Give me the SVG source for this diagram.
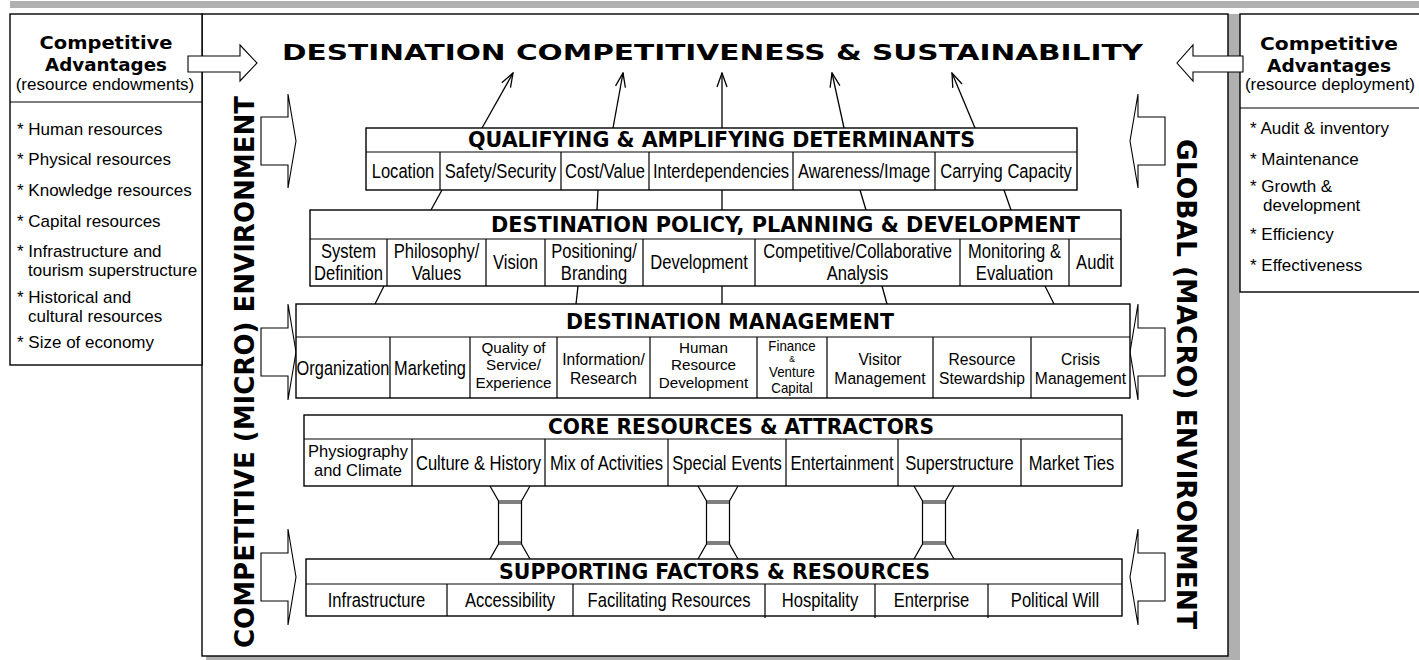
<svg xmlns="http://www.w3.org/2000/svg" width="1419" height="660" viewBox="0 0 1419 660">
<defs>
<style>
.box{fill:#fff;stroke:#000;stroke-width:1.4}
.dv{stroke:#000;stroke-width:1.2;fill:none}
.ln{stroke:#000;stroke-width:1.3;fill:none}
.blk{fill:#fff;stroke:#000;stroke-width:1.1}
.gray{fill:#b0b0b0}
.hd{font-family:"DejaVu Sans",Verdana,sans-serif;font-weight:bold;font-size:21px;text-anchor:middle;fill:#000}
.c{font-family:"Liberation Sans",Arial,sans-serif;font-size:19.5px;text-anchor:middle;fill:#000}
.m{font-family:"Liberation Sans",Arial,sans-serif;font-size:17px;text-anchor:middle;fill:#000}
.m3{font-family:"Liberation Sans",Arial,sans-serif;font-size:15.5px;text-anchor:middle;fill:#000}
.li{font-family:"Liberation Sans",Arial,sans-serif;font-size:17px;fill:#000}
.sub{font-family:"Liberation Sans",Arial,sans-serif;font-size:17px;text-anchor:middle;fill:#000}
.ca{font-family:"DejaVu Sans",Verdana,sans-serif;font-weight:bold;font-size:18.5px;text-anchor:middle;fill:#000}
.vt{font-family:"DejaVu Sans",Verdana,sans-serif;font-weight:bold;font-size:26px;text-anchor:middle;fill:#000}
</style>
<marker id="ah" viewBox="0 0 16 12" refX="15" refY="6" markerWidth="16" markerHeight="12" markerUnits="userSpaceOnUse" orient="auto">
<path d="M1,1 L15,6 L1,11" fill="none" stroke="#000" stroke-width="1.3"/>
</marker>
</defs>

<rect x="0" y="0" width="1419" height="660" fill="#fff"/>
<rect class="gray" x="10" y="1" width="1409" height="7"/>
<rect class="gray" x="1228" y="14" width="12" height="646"/>
<rect class="gray" x="206" y="656" width="1034" height="4"/>

<g id="frame">
<rect class="box" x="202" y="14" width="1026" height="642"/>
</g>

<g id="left-box">
<rect class="box" x="10" y="14" width="192" height="351"/>
<line class="dv" x1="10" y1="102" x2="202" y2="102"/>
<text class="ca" x="106" y="49" textLength="133" lengthAdjust="spacingAndGlyphs">Competitive</text>
<text class="ca" x="106" y="71" textLength="122" lengthAdjust="spacingAndGlyphs">Advantages</text>
<text class="sub" x="105" y="90">(resource endowments)</text>
<text class="li" x="17" y="135">* Human resources</text>
<text class="li" x="17" y="165">* Physical resources</text>
<text class="li" x="17" y="196">* Knowledge resources</text>
<text class="li" x="17" y="227">* Capital resources</text>
<text class="li" x="17" y="257">* Infrastructure and</text>
<text class="li" x="28" y="276">tourism superstructure</text>
<text class="li" x="17" y="303">* Historical and</text>
<text class="li" x="28" y="322">cultural resources</text>
<text class="li" x="17" y="348">* Size of economy</text>
</g>

<g id="right-box">
<rect class="box" x="1240" y="14" width="190" height="278"/>
<line class="dv" x1="1240" y1="108" x2="1419" y2="108"/>
<text class="ca" x="1329" y="50" textLength="138" lengthAdjust="spacingAndGlyphs">Competitive</text>
<text class="ca" x="1329" y="72" textLength="124" lengthAdjust="spacingAndGlyphs">Advantages</text>
<text class="sub" x="1330" y="90">(resource deployment)</text>
<text class="li" x="1250" y="134">* Audit &amp; inventory</text>
<text class="li" x="1250" y="165">* Maintenance</text>
<text class="li" x="1250" y="192">* Growth &amp;</text>
<text class="li" x="1263" y="211">development</text>
<text class="li" x="1250" y="240">* Efficiency</text>
<text class="li" x="1250" y="271">* Effectiveness</text>
</g>

<g id="top-arrows">
<polygon class="blk" points="188,56 240,56 240,45 257,63 240,81 240,72 188,72"/>
<polygon class="blk" points="1243,56 1193,56 1193,45 1177,63 1193,81 1193,72 1243,72"/>
</g>

<g id="side-arrows">
<polygon class="blk" points="261,117 288,117 288,94 296,141 288,188 288,165 261,165"/>
<polygon class="blk" points="261,328 288,328 288,304 296,352 288,400 288,376 261,376"/>
<polygon class="blk" points="261,553 288,553 288,529 296,577 288,625 288,601 261,601"/>
<polygon class="blk" points="1165,117 1138,117 1138,94 1130,141 1138,188 1138,165 1165,165"/>
<polygon class="blk" points="1165,328 1138,328 1138,304 1130,352 1138,400 1138,376 1165,376"/>
<polygon class="blk" points="1165,553 1138,553 1138,529 1130,577 1138,625 1138,601 1165,601"/>
</g>

<g id="env-labels">
<text class="vt" transform="translate(254,372) rotate(-90)" textLength="552" lengthAdjust="spacingAndGlyphs">COMPETITIVE (MICRO) ENVIRONMENT</text>
<text class="vt" transform="translate(1177,384) rotate(90)" textLength="490" lengthAdjust="spacingAndGlyphs">GLOBAL (MACRO) ENVIRONMENT</text>
</g>

<g id="title">
<text class="hd" x="712.5" y="60" font-size="30" textLength="861" lengthAdjust="spacingAndGlyphs">DESTINATION COMPETITIVENESS &amp; SUSTAINABILITY</text>
</g>

<g id="connectors">
<line class="ln" x1="482" y1="128" x2="513" y2="73" marker-end="url(#ah)"/>
<line class="ln" x1="613" y1="128" x2="623" y2="73" marker-end="url(#ah)"/>
<line class="ln" x1="722" y1="128" x2="722" y2="73" marker-end="url(#ah)"/>
<line class="ln" x1="844" y1="128" x2="832" y2="73" marker-end="url(#ah)"/>
<line class="ln" x1="975" y1="128" x2="952" y2="73" marker-end="url(#ah)"/>

<line class="ln" x1="442" y1="190" x2="431" y2="210"/>
<line class="ln" x1="598" y1="190" x2="597" y2="210"/>
<line class="ln" x1="722" y1="190" x2="722" y2="210"/>
<line class="ln" x1="860" y1="190" x2="866" y2="210"/>
<line class="ln" x1="1004" y1="190" x2="1011" y2="210"/>

<line class="ln" x1="384" y1="286" x2="375" y2="304"/>
<line class="ln" x1="578" y1="286" x2="576" y2="304"/>
<line class="ln" x1="722" y1="286" x2="722" y2="304"/>
<line class="ln" x1="882" y1="286" x2="887" y2="304"/>
<line class="ln" x1="1045" y1="286" x2="1054" y2="304"/>

<g id="bridge1" transform="translate(510,0)">
<path class="dv" d="M-20,486 L-11.5,501 L-11.5,544 L-20,559 M20,486 L11.5,501 L11.5,544 L20,559 M-11.5,501 H11.5 M-11.5,503 H11.5 M-11.5,542 H11.5 M-11.5,544 H11.5"/>
</g>
<g id="bridge2" transform="translate(718,0)">
<path class="dv" d="M-20,486 L-11.5,501 L-11.5,544 L-20,559 M20,486 L11.5,501 L11.5,544 L20,559 M-11.5,501 H11.5 M-11.5,503 H11.5 M-11.5,542 H11.5 M-11.5,544 H11.5"/>
</g>
<g id="bridge3" transform="translate(934,0)">
<path class="dv" d="M-20,486 L-11.5,501 L-11.5,544 L-20,559 M20,486 L11.5,501 L11.5,544 L20,559 M-11.5,501 H11.5 M-11.5,503 H11.5 M-11.5,542 H11.5 M-11.5,544 H11.5"/>
</g>
</g>

<g id="qualifying">
<rect class="box" x="366" y="128" width="711" height="62"/>
<line class="dv" x1="366" y1="152" x2="1077" y2="152"/>
<path class="dv" d="M440,152V190M561,152V190M649,152V190M793,152V190M935,152V190"/>
<text class="hd" x="721.5" y="147" textLength="507" lengthAdjust="spacingAndGlyphs">QUALIFYING &amp; AMPLIFYING DETERMINANTS</text>
<text class="c" transform="translate(403,178) scale(0.85,1)">Location</text>
<text class="c" transform="translate(500.5,178) scale(0.85,1)">Safety/Security</text>
<text class="c" transform="translate(605,178) scale(0.85,1)">Cost/Value</text>
<text class="c" transform="translate(721,178) scale(0.85,1)">Interdependencies</text>
<text class="c" transform="translate(864,178) scale(0.85,1)">Awareness/Image</text>
<text class="c" transform="translate(1006,178) scale(0.85,1)">Carrying Capacity</text>
</g>

<g id="policy">
<rect class="box" x="310" y="210" width="811" height="76"/>
<line class="dv" x1="310" y1="239" x2="1121" y2="239"/>
<path class="dv" d="M387,239V286M486,239V286M545,239V286M643,239V286M755,239V286M960,239V286M1069,239V286"/>
<text class="hd" x="785.5" y="232" textLength="589" lengthAdjust="spacingAndGlyphs">DESTINATION POLICY, PLANNING &amp; DEVELOPMENT</text>
<text class="c" transform="translate(348.5,0) scale(0.85,1)"><tspan x="0" y="258">System</tspan><tspan x="0" y="280">Definition</tspan></text>
<text class="c" transform="translate(436.5,0) scale(0.85,1)"><tspan x="0" y="258">Philosophy/</tspan><tspan x="0" y="280">Values</tspan></text>
<text class="c" transform="translate(515.5,269) scale(0.85,1)">Vision</text>
<text class="c" transform="translate(594,0) scale(0.85,1)"><tspan x="0" y="258">Positioning/</tspan><tspan x="0" y="280">Branding</tspan></text>
<text class="c" transform="translate(699,269) scale(0.85,1)">Development</text>
<text class="c" transform="translate(857.5,0) scale(0.85,1)"><tspan x="0" y="258">Competitive/Collaborative</tspan><tspan x="0" y="280">Analysis</tspan></text>
<text class="c" transform="translate(1014.5,0) scale(0.85,1)"><tspan x="0" y="258">Monitoring &amp;</tspan><tspan x="0" y="280">Evaluation</tspan></text>
<text class="c" transform="translate(1095,269) scale(0.85,1)">Audit</text>
</g>

<g id="management">
<rect class="box" x="296" y="304" width="834" height="94"/>
<line class="dv" x1="296" y1="337" x2="1130" y2="337"/>
<path class="dv" d="M390,337V398M470,337V398M557,337V398M650,337V398M757,337V398M827,337V398M933,337V398M1031,337V398"/>
<text class="hd" x="730" y="329" textLength="328" lengthAdjust="spacingAndGlyphs">DESTINATION MANAGEMENT</text>
<text class="c" transform="translate(343,375) scale(0.84,1)">Organization</text>
<text class="c" transform="translate(430,375) scale(0.84,1)">Marketing</text>
<text class="m3" transform="translate(513.5,0) scale(0.98,1)"><tspan x="0" y="353">Quality of</tspan><tspan x="0" y="370.5">Service/</tspan><tspan x="0" y="388">Experience</tspan></text>
<text class="m" transform="translate(603.5,0) scale(0.92,1)"><tspan x="0" y="365">Information/</tspan><tspan x="0" y="384">Research</tspan></text>
<text class="m3" transform="translate(703.5,0) scale(0.98,1)"><tspan x="0" y="353">Human</tspan><tspan x="0" y="370.5">Resource</tspan><tspan x="0" y="388">Development</tspan></text>
<text class="m3" transform="translate(792,0) scale(0.95,1)"><tspan x="0" y="351" font-size="14">Finance</tspan><tspan x="0" y="362.5" font-size="9">&amp;</tspan><tspan x="0" y="377.5" font-size="14">Venture</tspan><tspan x="0" y="393.5" font-size="14">Capital</tspan></text>
<text class="m" transform="translate(880,0) scale(0.92,1)"><tspan x="0" y="365">Visitor</tspan><tspan x="0" y="384">Management</tspan></text>
<text class="m" transform="translate(982,0) scale(0.92,1)"><tspan x="0" y="365">Resource</tspan><tspan x="0" y="384">Stewardship</tspan></text>
<text class="m" transform="translate(1080.5,0) scale(0.92,1)"><tspan x="0" y="365">Crisis</tspan><tspan x="0" y="384">Management</tspan></text>
</g>

<g id="core">
<rect class="box" x="304" y="415" width="818" height="71"/>
<line class="dv" x1="304" y1="439" x2="1122" y2="439"/>
<path class="dv" d="M412,439V486M545,439V486M668,439V486M786,439V486M898,439V486M1021,439V486"/>
<text class="hd" x="741" y="434" textLength="386" lengthAdjust="spacingAndGlyphs">CORE RESOURCES &amp; ATTRACTORS</text>
<text class="m" transform="translate(358,0) scale(0.97,1)"><tspan x="0" y="457">Physiography</tspan><tspan x="0" y="476">and Climate</tspan></text>
<text class="c" transform="translate(478.5,470) scale(0.85,1)">Culture &amp; History</text>
<text class="c" transform="translate(606.5,470) scale(0.85,1)">Mix of Activities</text>
<text class="c" transform="translate(727,470) scale(0.85,1)">Special Events</text>
<text class="c" transform="translate(842,470) scale(0.85,1)">Entertainment</text>
<text class="c" transform="translate(959.5,470) scale(0.85,1)">Superstructure</text>
<text class="c" transform="translate(1071.5,470) scale(0.85,1)">Market Ties</text>
</g>

<g id="supporting">
<rect class="box" x="306" y="559" width="816" height="57"/>
<line class="dv" x1="306" y1="584" x2="1122" y2="584"/>
<path class="dv" d="M447,584V616M573,584V616M765,584V618M875,584V618M988,584V618"/>
<text class="hd" x="714.5" y="579" textLength="431" lengthAdjust="spacingAndGlyphs">SUPPORTING FACTORS &amp; RESOURCES</text>
<text class="c" transform="translate(376.5,607) scale(0.85,1)">Infrastructure</text>
<text class="c" transform="translate(510,607) scale(0.85,1)">Accessibility</text>
<text class="c" transform="translate(669,607) scale(0.85,1)">Facilitating Resources</text>
<text class="c" transform="translate(820,607) scale(0.85,1)">Hospitality</text>
<text class="c" transform="translate(931.5,607) scale(0.85,1)">Enterprise</text>
<text class="c" transform="translate(1055,607) scale(0.85,1)">Political Will</text>
</g>
</svg>
